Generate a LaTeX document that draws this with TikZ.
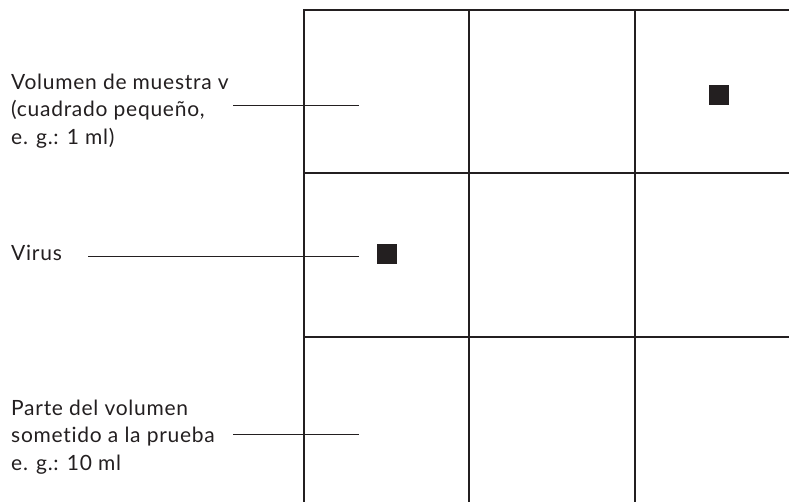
\documentclass[tikz,border=0pt]{standalone}
\usepackage{fontspec}
\setmainfont{Lato}[Ligatures={NoCommon},LetterSpace=3.5]
\definecolor{ink}{HTML}{231F20}
\begin{document}
\begin{tikzpicture}[x=1pt,y=-1pt,
  gridline/.style={draw=ink,line width=1.2pt},
  leader/.style={draw=ink,line width=1pt},
  virus/.style={fill=ink,draw=none,minimum size=20pt,inner sep=0pt},
  lbl/.style={anchor=west,align=left,text=ink,font=\fontsize{21}{27.5}\selectfont,inner sep=0pt}]
\useasboundingbox (0,0) rectangle (789,502);
% grid
\draw[gridline] (789,10) -- (304,10) -- (304,502);
\draw[gridline] (469,10) -- (469,502);
\draw[gridline] (635,10) -- (635,502);
\draw[gridline] (304,173) -- (789,173);
\draw[gridline] (304,337) -- (789,337);
% viruses
\node[virus] (v1) at (719,95) {};
\node[virus] (v2) at (387,254) {};
% labels
\node[lbl] (l1) at (11,111) {Volumen de muestra v\\(cuadrado pequeño,\\e. g.: 1 ml)};
\node[lbl] (l2) at (11,252.5) {Virus};
\node[lbl] (l3) at (11,437) {Parte del volumen\\sometido a la prueba\\e. g.: 10 ml};
% leaders
\coordinate (e1) at (359,106);
\coordinate (e2) at (359,257);
\coordinate (e3) at (359,434);
\coordinate (s1) at (233,106);
\coordinate (s2) at (88,257);
\coordinate (s3) at (233,434);
\draw[leader] (s1) -- (e1);
\draw[leader] (s2) -- (e2);
\draw[leader] (s3) -- (e3);
\end{tikzpicture}
\end{document}
